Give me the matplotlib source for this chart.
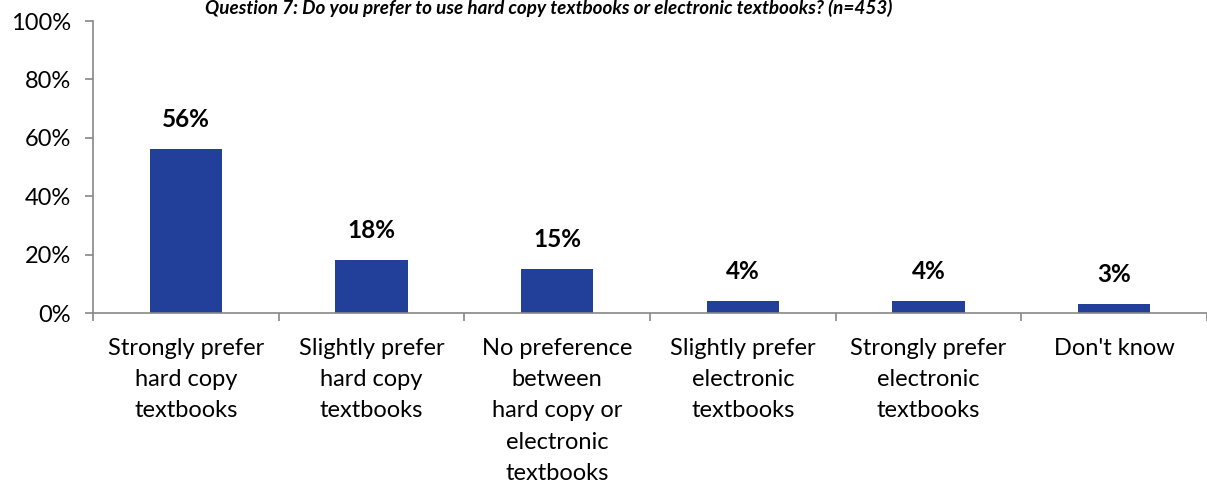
import numpy as np
import matplotlib.pyplot as plt

categories = [
    "Strongly prefer\nhard copy\ntextbooks",
    "Slightly prefer\nhard copy\ntextbooks",
    "No preference\nbetween\nhard copy or\nelectronic\ntextbooks",
    "Slightly prefer\nelectronic\ntextbooks",
    "Strongly prefer\nelectronic\ntextbooks",
    "Don't know",
]
shares = [56, 18, 15, 4, 4, 3]
y_ticks = [0, 20, 40, 60, 80, 100]
title = "Question 7: Do you prefer to use hard copy textbooks or electronic textbooks? (n=453)"

plt.rcParams['font.family'] = ['Lato', 'DejaVu Sans']

fig = plt.figure(figsize=(12.07, 4.87), dpi=100)
ax = fig.add_axes([93 / 1207, 1 - 313 / 487, 1 - 93 / 1207, 292 / 487])

x = np.arange(len(categories))
ax.bar(x, shares, width=0.39, color="#22409A", zorder=2)
for xi, v in zip(x, shares):
    ax.annotate(f"{v}%", (xi, v), xytext=(0, 13), textcoords="offset points",
                ha="center", va="bottom", fontsize=17.5, fontweight="bold")

ax.set_xlim(-0.5, len(categories) - 0.5)
ax.set_ylim(0, 100)
ax.set_yticks(y_ticks)
ax.set_yticklabels([f"{t}%" for t in y_ticks], fontsize=17)
ax.set_xticks(x)
ax.set_xticklabels(categories, fontsize=17, linespacing=1.6)
ax.set_xticks(np.arange(len(categories) + 1) - 0.5, minor=True)
ax.tick_params(axis="x", which="major", length=0, pad=18)
ax.tick_params(axis="x", which="minor", length=6, color="#888888", width=1.2)
ax.tick_params(axis="y", length=6, color="#888888", width=1.2, pad=10)

for side in ["top", "right"]:
    ax.spines[side].set_visible(False)
for side in ["left", "bottom"]:
    ax.spines[side].set_color("#888888")
    ax.spines[side].set_linewidth(1.2)

fig.text(549 / 1207, 1 - 8 / 487, title, ha="center", va="center",
         fontsize=13.6, fontweight="bold", fontstyle="italic")

fig.savefig("out.png", dpi=100)
